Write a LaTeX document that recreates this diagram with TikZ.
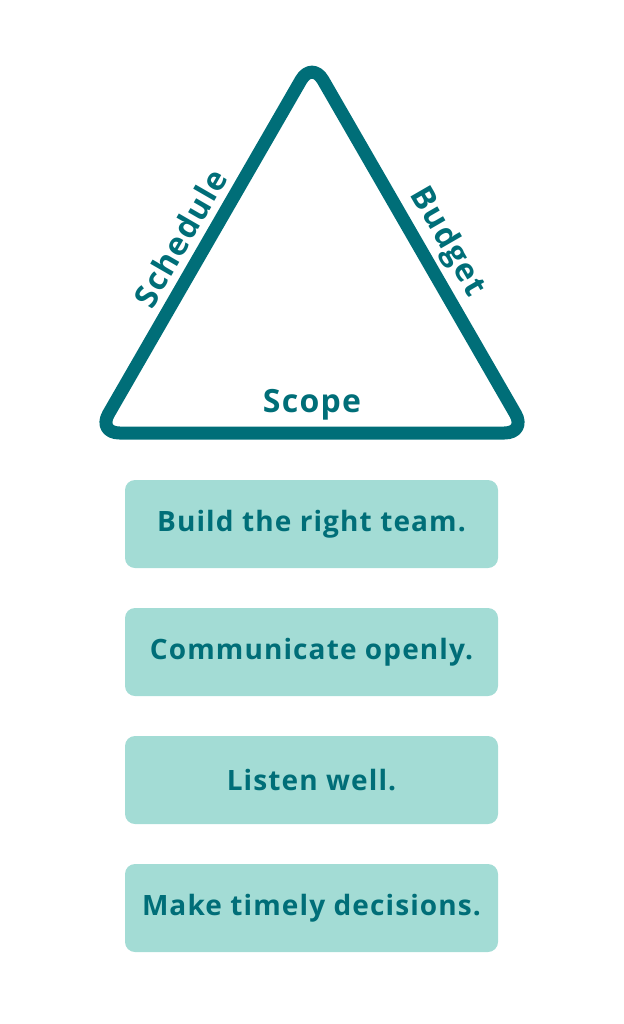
\documentclass[tikz,border=0pt]{standalone}
\usepackage{fontspec}
\setmainfont{Open Sans}[LetterSpace=4]
\definecolor{teal}{HTML}{006E78}
\definecolor{mint}{HTML}{A3DCD5}
\begin{document}
\begin{tikzpicture}[x=1pt,y=-1pt,
  lbl/.style={text=teal,font=\fontsize{32}{32}\selectfont\bfseries,inner sep=0pt},
  tip/.style={fill=mint,rounded corners=10pt,minimum width=373pt,minimum height=88pt,inner sep=0pt,
    text=teal,font=\fontsize{28}{28}\selectfont\bfseries}]
\useasboundingbox (0,0) rectangle (623,1024);
\coordinate (m) at (312,433);
\coordinate (br) at (526.5,433);
\coordinate (ap) at (312,61);
\coordinate (bl) at (97.5,433);
\draw[teal,line width=13pt,rounded corners=22pt,line join=round] (m) -- (br) -- (ap) -- (bl) -- cycle;
\node[lbl,rotate=60] (sch) at (180,238) {Schedule};
\node[lbl,rotate=-60] (bud) at (447,242) {Budget};
\node[lbl] (sco) at (312,405) {Scope};
\node[tip] (t1) at (311.5,524) {Build the right team.};
\node[tip] (t2) at (311.5,652) {Communicate openly.};
\node[tip] (t3) at (311.5,780) {Listen well.};
\node[tip] (t4) at (311.5,908) {Make timely decisions.};
\end{tikzpicture}
\end{document}
